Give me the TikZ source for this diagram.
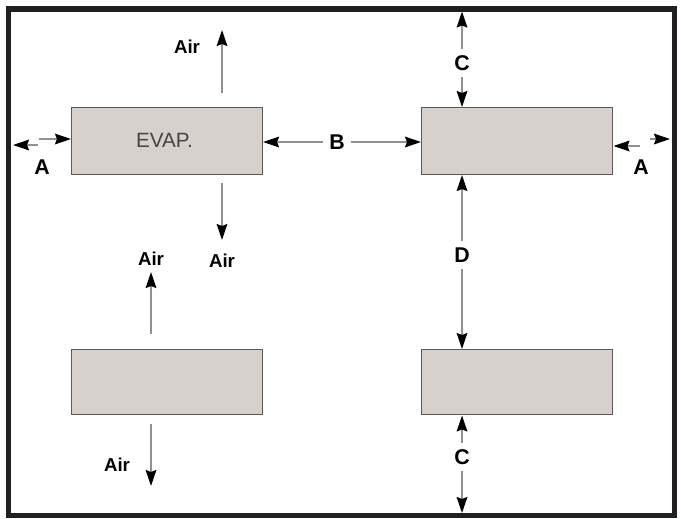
\documentclass[tikz,border=0pt]{standalone}
\usepackage{fontspec}
\setmainfont{Liberation Sans}
\usetikzlibrary{arrows.meta}
\definecolor{boxfill}{RGB}{214,209,205}
\definecolor{boxline}{RGB}{90,88,88}
\definecolor{evaptext}{RGB}{70,68,68}
\definecolor{frameline}{RGB}{35,31,32}
\definecolor{lineg}{RGB}{145,145,145}
\tikzset{
  unit/.style={x=0.75pt,y=-0.75pt},
  unitbox/.style={draw=boxline,fill=boxfill,line width=1.1pt,minimum width=143.25pt,minimum height=50pt,inner sep=0pt,anchor=north west},
  arr/.style={draw=lineg,line width=1.3pt,-{Stealth[length=12pt,width=8pt,inset=1.5pt,color=black]}},
  darr/.style={draw=lineg,line width=1.3pt,{Stealth[length=12pt,width=8pt,inset=1.5pt,color=black]}-{Stealth[length=12pt,width=8pt,inset=1.5pt,color=black]}},
  lab/.style={font=\bfseries\fontsize{16}{16}\selectfont,inner sep=1pt},
  airlab/.style={font=\bfseries\fontsize{14}{14}\selectfont,inner sep=1pt},
  gap/.style={fill=white,inner sep=5pt}
}
\begin{document}
\begin{tikzpicture}[unit]
\useasboundingbox (0,0) rectangle (681,518);
\fill[white] (0,0) rectangle (681,518);
% frame
\draw[frameline,line width=3.9pt] (8.5,9) rectangle (674.5,515.5);
\coordinate (ftop) at (462,11.5);
\coordinate (fbot) at (462,513);
% boxes
\node[unitbox] (evap) at (71,107) {};
\node[font=\fontsize{15.5}{15.5}\selectfont,text=evaptext] (evaptxt) at (164.5,140) {EVAP.};
\node[unitbox] (tr) at (421,107) {};
\node[unitbox,minimum height=48.75pt] (bl) at (71,349) {};
\node[unitbox,minimum height=48.75pt] (br) at (421,349) {};
% A left
\coordinate (al1) at (39,139);
\coordinate (al2) at (38,145);
\coordinate (al3) at (13,145);
\draw[arr] (al1) -- (al1 -| evap.west);
\draw[arr] (al2) -- (al3);
\node[lab] (la) at (42,167) {A};
% A right
\coordinate (ar1) at (640,146);
\coordinate (ar2) at (650,139);
\coordinate (ar3) at (670,139);
\draw[arr] (ar1) -- (ar1 -| tr.east);
\draw[arr] (ar2) -- (ar3);
\node[lab] (ra) at (641,167) {A};
% B
\coordinate (bl1) at (263,142);
\draw[darr] (bl1) -- (bl1 -| tr.west);
\node[lab,gap] (lb) at (337,142) {B};
% C top
\draw[darr] (ftop) -- (ftop |- tr.north);
\node[lab,gap] (ct) at (462,63) {C};
% D
\coordinate (dtop) at (462,175);
\draw[darr] (dtop) -- (dtop |- br.north);
\node[lab,gap] (ld) at (462,255) {D};
% C bottom
\draw[darr] (fbot |- br.south) -- (fbot);
\node[lab,gap] (cb) at (462,457) {C};
% Air arrows
\coordinate (a1s) at (222,93);
\coordinate (a1e) at (222,30);
\draw[arr] (a1s) -- (a1e);
\node[airlab] (air1) at (187,47) {Air};
\coordinate (a2s) at (222,183);
\coordinate (a2e) at (222,240);
\draw[arr] (a2s) -- (a2e);
\node[airlab] (air2) at (222,261) {Air};
\coordinate (a3s) at (151,334);
\coordinate (a3e) at (151,272);
\draw[arr] (a3s) -- (a3e);
\node[airlab] (air3) at (151,259) {Air};
\coordinate (a4s) at (151,424);
\coordinate (a4e) at (151,486);
\draw[arr] (a4s) -- (a4e);
\node[airlab] (air4) at (117,465) {Air};
\end{tikzpicture}
\end{document}
